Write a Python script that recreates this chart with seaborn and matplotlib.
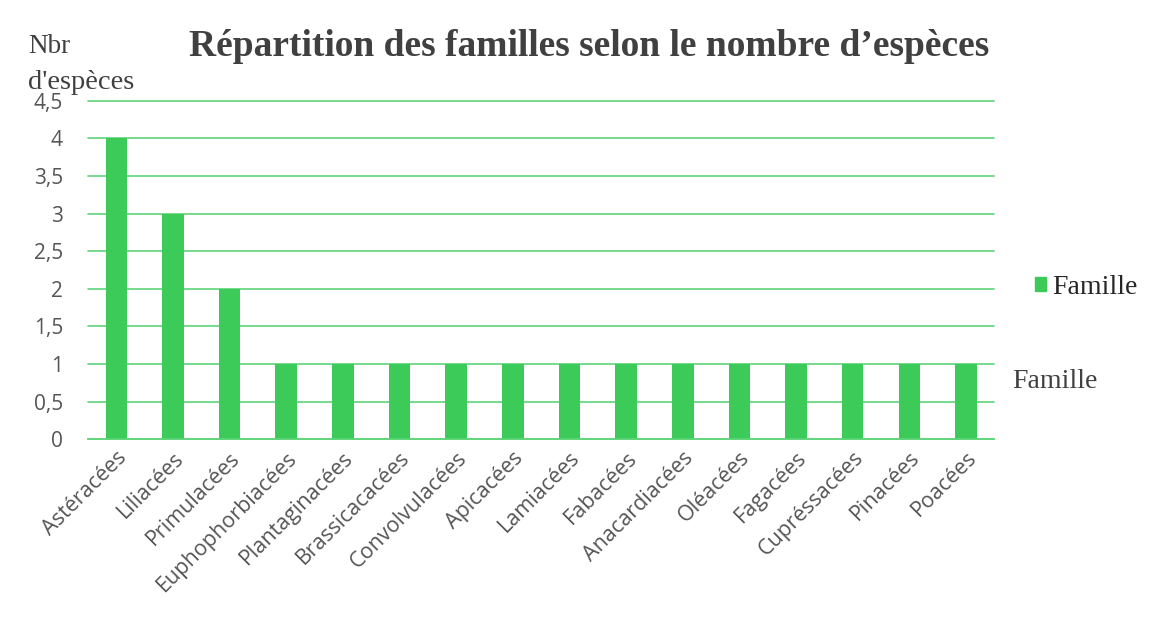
import matplotlib
matplotlib.use("Agg")
import matplotlib.pyplot as plt
import seaborn as sns
import pandas as pd
from matplotlib.patches import Patch

familles = ['Astéracées', 'Liliacées', 'Primulacées', 'Euphophorbiacées',
            'Plantaginacées', 'Brassicacacées', 'Convolvulacées', 'Apicacées',
            'Lamiacées', 'Fabacées', 'Anacardiacées', 'Oléacées', 'Fagacées',
            'Cupréssacées', 'Pinacées', 'Poacées']
nb_especes = [4, 3, 2, 1, 1, 1, 1, 1, 1, 1, 1, 1, 1, 1, 1, 1]
yticks = [0, 0.5, 1, 1.5, 2, 2.5, 3, 3.5, 4, 4.5]

df = pd.DataFrame({'famille': familles, 'nb': nb_especes})

vert = '#3ccb58'
grille = '#5fd47a'
gris = '#555555'

sns.set_style('white')
fig = plt.figure(figsize=(11.62, 6.42), dpi=100)
ax = fig.add_axes([0.0757, 0.316, 0.78, 0.527])

sns.barplot(data=df, x='famille', y='nb', color=vert, width=0.38,
            saturation=1, linewidth=0, ax=ax)

ax.set_ylim(0, 4.5)
ax.set_xlim(-0.5, len(familles) - 0.5)
ax.set_yticks(yticks)
ax.set_yticklabels([str(v).replace('.', ',').replace(',0', '') for v in yticks],
                   fontsize=15, color=gris, family='Open Sans')
ax.set_xticks(range(len(familles)))
ax.set_xticklabels(familles, rotation=45, ha='right', rotation_mode='anchor',
                   fontsize=15.5, color=gris, family='Open Sans')
ax.tick_params(axis='y', length=0, pad=18)
ax.tick_params(axis='x', length=0, pad=6)
ax.set_axisbelow(True)
ax.yaxis.grid(True, color=grille, linewidth=1.2)
for line in ax.get_ygridlines():
    line.set_clip_on(False)
for s in ['top', 'right', 'left']:
    ax.spines[s].set_visible(False)
ax.spines['bottom'].set_color(grille)
ax.spines['bottom'].set_linewidth(1.2)
ax.set_xlabel('')
ax.set_ylabel('')

fig.text(0.507, 0.927, "Répartition des familles selon le nombre d’espèces",
         ha='center', va='center', fontsize=27, fontweight='bold',
         family='Liberation Serif', color='#404040')
fig.text(0.024, 0.927, 'Nbr', fontsize=19.5, family='Liberation Serif',
         color='#404040', va='center')
fig.text(0.024, 0.872, "d'espèces", fontsize=20.5, family='Liberation Serif',
         color='#404040', va='center')
fig.text(0.871, 0.405, 'Famille', fontsize=20, family='Liberation Serif',
         color='#404040', va='center')

ax.legend(handles=[Patch(color=vert, label='Famille')], loc='center left',
          bbox_to_anchor=(1.017, 0.447), frameon=False, handlelength=0.4,
          handleheight=0.4, handletextpad=0.22,
          prop={'family': 'Liberation Serif', 'size': 20})

fig.savefig('out.png', dpi=100, facecolor='white')
